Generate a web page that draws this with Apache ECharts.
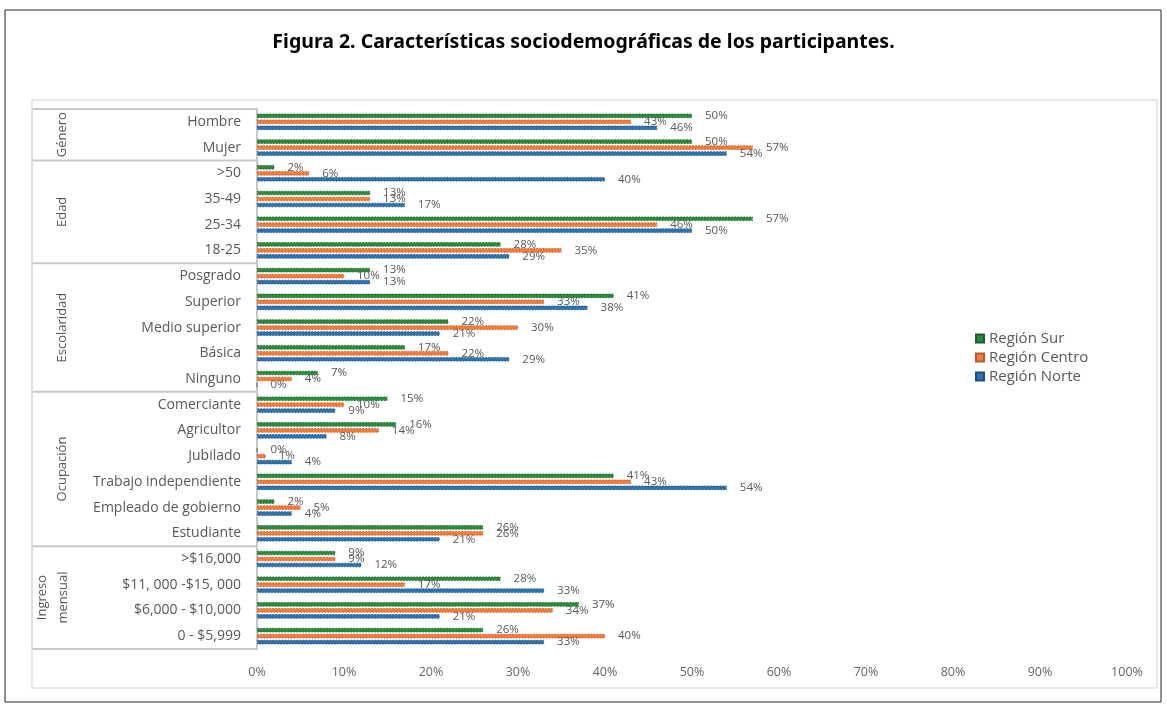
<!DOCTYPE html>
<html><head><meta charset="utf-8">
<script src="https://cdn.jsdelivr.net/npm/echarts@6/dist/echarts.min.js"></script>
<style>html,body{margin:0;padding:0;background:#fff;}#c{width:1167px;height:704px;}</style>
</head><body><div id="c"></div>
<script>
const titleText = 'Figura 2. Características sociodemográficas de los participantes.';
const categories = ['Hombre','Mujer','>50','35-49','25-34','18-25','Posgrado','Superior','Medio superior','Básica','Ninguno','Comerciante','Agricultor','Jubilado','Trabajo independiente','Empleado de gobierno','Estudiante','>$16,000','$11, 000 -$15, 000','$6,000 - $10,000','0 - $5,999'];
const surValues    = [50,50, 2,13,57,28, 13,41,22,17,7, 15,16,0,41,2,26, 9,28,37,26];
const centroValues = [43,57, 6,13,46,35, 10,33,30,22,4, 10,14,1,43,5,26, 9,17,34,40];
const norteValues  = [46,54,40,17,50,29, 13,38,21,29,0,  9, 8,4,54,4,21, 12,33,21,33];
const seriesNames = ['Región Sur','Región Centro','Región Norte'];
const groupNames = ['Género','Edad','Escolaridad','Ocupación','Ingreso\nmensual'];
const groupSizes = [2,4,5,6,4];
const xTicks = [0,10,20,30,40,50,60,70,80,90,100];

(function(){
const colors = ['#2b8a3e','#f47b38','#2c73b0'];
const borders = ['#1d5e2b','#b9582a','#1d4f7c'];
const FONT = 'Open Sans';
const chart = echarts.init(document.getElementById('c'));
const data = [surValues, centroValues, norteValues];
const GRID = {left:257, right:40, top:109, bottom:55};
chart.setOption({
  animation:false,
  title:{text:titleText,left:'center',top:27,textStyle:{fontFamily:'Noto Sans',fontWeight:'bold',fontSize:19.5,color:'#000'}},
  legend:{orient:'vertical',left:970,top:326,itemWidth:8,itemHeight:8,itemGap:4,icon:'rect',
    textStyle:{fontFamily:FONT,fontSize:15,color:'#595959'},data:seriesNames},
  grid:GRID,
  xAxis:{type:'value',min:xTicks[0],max:xTicks[xTicks.length-1],interval:10,
    axisLabel:{formatter:'{value}%',fontFamily:FONT,fontSize:12.5,color:'#666',margin:17},
    splitLine:{show:false},axisLine:{show:false},axisTick:{show:false}},
  yAxis:{type:'category',inverse:true,data:categories,
    axisLabel:{fontFamily:FONT,fontSize:14,color:'#595959',margin:16},
    axisLine:{show:true,lineStyle:{color:'#c8c8c8',width:2}},axisTick:{show:false}},
  series:seriesNames.map((n,i)=>({name:n,type:'bar',data:data[i],barWidth:4.5,barGap:'33%',barCategoryGap:'20%',
    itemStyle:{color:colors[i],borderColor:borders[i],borderWidth:0.8,borderType:[1.5,1.5]},
    label:{show:true,position:'right',distance:13,formatter:'{c}%',fontFamily:FONT,fontSize:11.5,color:'#595959'}}))
});

const c0 = chart.convertToPixel({yAxisIndex:0}, categories[0]);
const c1 = chart.convertToPixel({yAxisIndex:0}, categories[1]);
const band = c1 - c0;
const y0top = c0 - band/2;
const g = [];
g.push({type:'rect',shape:{x:5,y:10,width:1156,height:692},style:{fill:'none',stroke:'#222',lineWidth:1},silent:true});
g.push({type:'rect',shape:{x:32,y:100,width:1125,height:588},style:{fill:'none',stroke:'#e2e2e2',lineWidth:1.5},silent:true});
let idx = 0;
const ls = {stroke:'#c8c8c8',lineWidth:2};
g.push({type:'line',shape:{x1:32,y1:y0top,x2:257,y2:y0top},style:ls,silent:true});
groupSizes.forEach((s,k)=>{
  const ya = y0top + idx*band;
  const yb = y0top + (idx+s)*band;
  g.push({type:'line',shape:{x1:32,y1:yb,x2:257,y2:yb},style:ls,silent:true});
  g.push({type:'text',x:k===4?53:62,y:(ya+yb)/2,rotation:Math.PI/2,
    style:{text:groupNames[k],fontFamily:FONT,fontSize:13,fill:'#595959',align:'center',verticalAlign:'middle',lineHeight:21},silent:true});
  idx += s;
});
g.push({type:'line',shape:{x1:32,y1:y0top,x2:32,y2:y0top+idx*band},style:{stroke:'#d8d8d8',lineWidth:1},silent:true});
chart.setOption({graphic:g});
})();
</script></body></html>
